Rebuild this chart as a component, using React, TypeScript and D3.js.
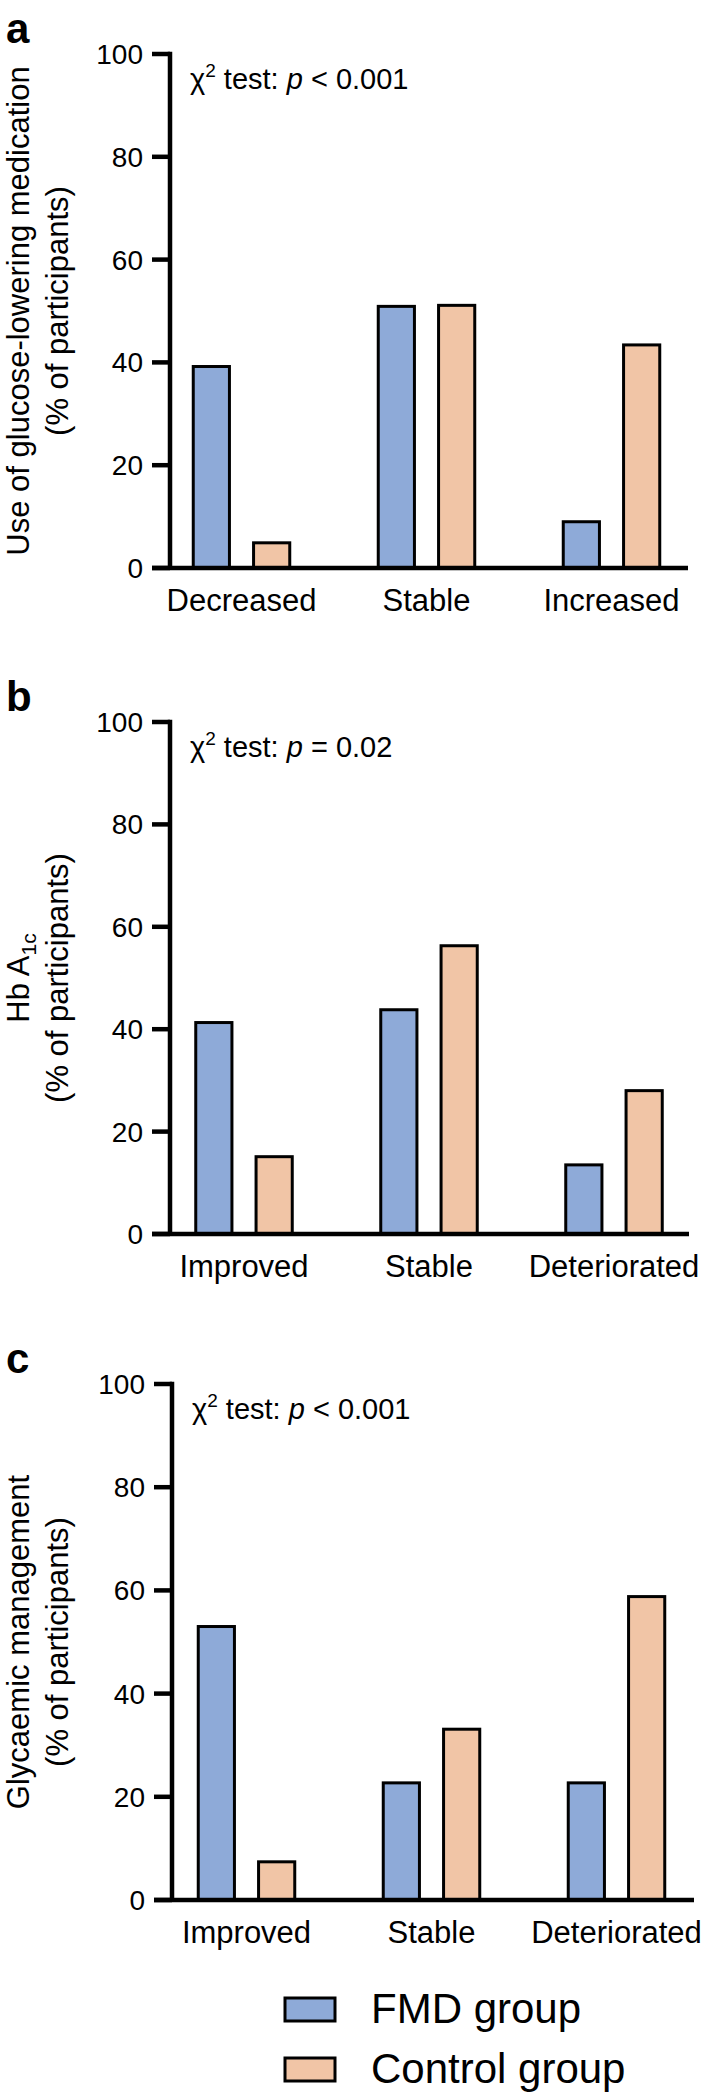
import * as d3 from "d3";

const FONT = "'Liberation Sans', Arial, Helvetica, sans-serif";
const FMD_COLOR = "#8eaad8";
const CONTROL_COLOR = "#f1c5a6";

const groups = ["FMD group", "Control group"];
const yTicks = [0, 20, 40, 60, 80, 100];

const medCategories = ["Decreased", "Stable", "Increased"];
const medFmd = [39.2, 50.9, 9.0];
const medControl = [4.9, 51.1, 43.4];

const hbCategories = ["Improved", "Stable", "Deteriorated"];
const hbFmd = [41.3, 43.8, 13.5];
const hbControl = [15.1, 56.3, 28.0];

const glyCategories = ["Improved", "Stable", "Deteriorated"];
const glyFmd = [53.0, 22.7, 22.7];
const glyControl = [7.4, 33.1, 58.8];

type PanelProps = {
  letter: string;
  top: number;
  bottom: number;
  axisX: number;
  firstCenter: number;
  axisEnd: number;
  categories: string[];
  fmd: number[];
  control: number[];
  title: React.ReactNode;
  pText: string;
};

function Panel({ letter, top, bottom, axisX, firstCenter, axisEnd, categories, fmd, control, title, pText }: PanelProps) {
  const y = d3.scaleLinear().domain([0, 100]).range([bottom, top]);
  const step = 185;
  const x = d3
    .scaleBand<string>()
    .domain(categories)
    .range([firstCenter - step / 2, firstCenter + step * (categories.length - 0.5)]);
  const xi = d3.scaleBand<string>().domain(groups).range([-48.25, 48.25]).paddingInner(0.4);
  const mid = (top + bottom) / 2;

  return (
    <g>
      {/* panel letter */}
      <text x={6} y={top - 11} fontSize={42} fontWeight="bold" fontFamily={FONT}>
        {letter}
      </text>

      {/* y title */}
      <g transform={`translate(29,${mid}) rotate(-90)`}>{title}</g>
      <text
        transform={`translate(68,${mid}) rotate(-90)`}
        textAnchor="middle"
        fontSize={31}
        fontFamily={FONT}
      >
        (% of participants)
      </text>

      {/* bars */}
      {categories.map((c, i) =>
        groups.map((g) => {
          const v = g === groups[0] ? fmd[i] : control[i];
          const cx = (x(c) ?? 0) + x.bandwidth() / 2 + (xi(g) ?? 0);
          return (
            <rect
              key={c + g}
              x={cx}
              y={y(v)}
              width={xi.bandwidth()}
              height={bottom - y(v)}
              fill={g === groups[0] ? FMD_COLOR : CONTROL_COLOR}
              stroke="#000"
              strokeWidth={3}
            />
          );
        })
      )}

      {/* y axis */}
      <line x1={axisX} x2={axisX} y1={y(100) - 2.25} y2={bottom} stroke="#000" strokeWidth={4.5} />
      {yTicks.map((t) => (
        <g key={t}>
          <line x1={axisX - 18} x2={axisX} y1={y(t)} y2={y(t)} stroke="#000" strokeWidth={4.5} />
          <text
            x={axisX - 27}
            y={y(t)}
            dy="0.36em"
            textAnchor="end"
            fontSize={28}
            fontFamily={FONT}
          >
            {t}
          </text>
        </g>
      ))}

      {/* x axis */}
      <line x1={axisX - 18} x2={axisEnd} y1={bottom} y2={bottom} stroke="#000" strokeWidth={4.5} />
      {categories.map((c) => (
        <text
          key={c}
          x={(x(c) ?? 0) + x.bandwidth() / 2}
          y={bottom + 43}
          textAnchor="middle"
          fontSize={31}
          fontFamily={FONT}
        >
          {c}
        </text>
      ))}

      {/* chi-square annotation */}
      <text x={axisX + 20} y={top + 35} fontSize={29} fontFamily={FONT}>
        χ
        <tspan fontSize={19} dy={-12}>
          2
        </tspan>
        <tspan dy={12}> test: </tspan>
        <tspan fontStyle="italic">p</tspan>
        {" " + pText}
      </text>
    </g>
  );
}

export default function App() {
  return (
    <div style={{ position: "absolute", left: 0, top: 0, background: "#fff" }}>
      <svg width={709} height={2094} viewBox="0 0 709 2094" style={{ display: "block" }}>
        <rect width={709} height={2094} fill="#fff" />
        <Panel
          letter="a"
          top={54}
          bottom={568}
          axisX={170}
          firstCenter={241.5}
          axisEnd={688}
          categories={medCategories}
          fmd={medFmd}
          control={medControl}
          pText="< 0.001"
          title={
            <text textAnchor="middle" fontSize={31} fontFamily={FONT}>
              Use of glucose-lowering medication
            </text>
          }
        />
        <Panel
          letter="b"
          top={722}
          bottom={1234}
          axisX={170}
          firstCenter={244}
          axisEnd={689}
          categories={hbCategories}
          fmd={hbFmd}
          control={hbControl}
          pText="= 0.02"
          title={
            <text textAnchor="middle" fontSize={31} fontFamily={FONT}>
              Hb A
              <tspan fontSize={21} dy={7}>
                1c
              </tspan>
            </text>
          }
        />
        <Panel
          letter="c"
          top={1384}
          bottom={1900}
          axisX={172}
          firstCenter={246.5}
          axisEnd={694}
          categories={glyCategories}
          fmd={glyFmd}
          control={glyControl}
          pText="< 0.001"
          title={
            <text textAnchor="middle" fontSize={31} fontFamily={FONT}>
              Glycaemic management
            </text>
          }
        />

        {/* legend */}
        {groups.map((g, i) => (
          <g key={g} transform={`translate(285,${1998 + i * 60})`}>
            <rect
              x={0}
              y={0}
              width={50}
              height={23}
              fill={i === 0 ? FMD_COLOR : CONTROL_COLOR}
              stroke="#000"
              strokeWidth={3}
            />
            <text x={86} y={25} fontSize={42} fontFamily={FONT}>
              {g}
            </text>
          </g>
        ))}
      </svg>
    </div>
  );
}
